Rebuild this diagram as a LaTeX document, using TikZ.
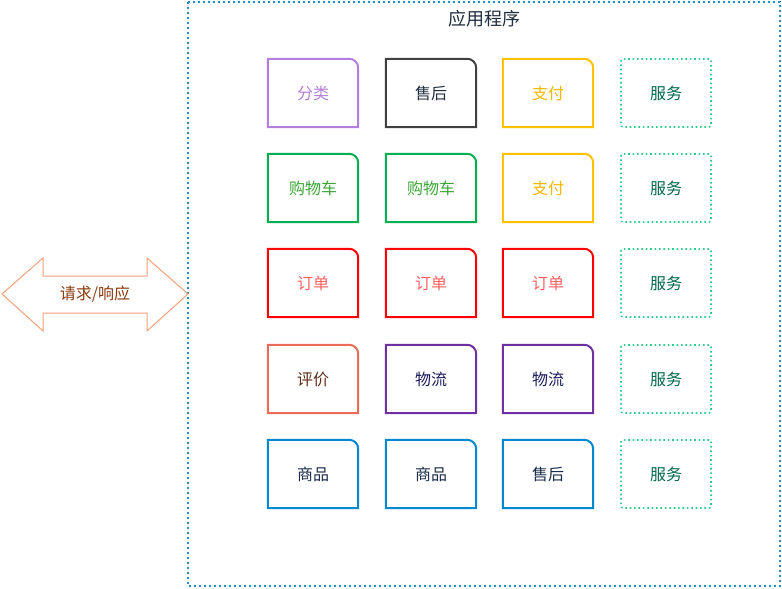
\documentclass[tikz,border=0pt]{standalone}
\usepackage{fontspec}
\setmainfont{Noto Sans CJK SC}
\usetikzlibrary{positioning}
\definecolor{framec}{HTML}{1F8FCB}
\definecolor{titlec}{HTML}{1F2D3D}
\definecolor{catc}{HTML}{B57EDC}
\definecolor{darkc}{HTML}{404040}
\definecolor{payc}{HTML}{FFC000}
\definecolor{paytxt}{HTML}{F5B800}
\definecolor{svcc}{HTML}{2ECC8F}
\definecolor{svctxt}{HTML}{00664B}
\definecolor{cartc}{HTML}{00B050}
\definecolor{carttxt}{HTML}{3AA635}
\definecolor{orderc}{HTML}{FF0000}
\definecolor{ordertxt}{HTML}{FF6060}
\definecolor{ratec}{HTML}{EA6B56}
\definecolor{ratetxt}{HTML}{5C2E1A}
\definecolor{shipc}{HTML}{7030A0}
\definecolor{shiptxt}{HTML}{1A1A5A}
\definecolor{goodsc}{HTML}{0088D1}
\definecolor{goodstxt}{HTML}{1A2B4A}
\definecolor{reqc}{HTML}{F4A07A}
\definecolor{reqtxt}{HTML}{8B3A0E}

\begin{document}
\begin{tikzpicture}[
  x=1pt,y=-1pt,
  font=\fontsize{16}{19}\selectfont,
  card/.style={minimum width=90pt, minimum height=68pt, inner sep=0pt, align=center,
    append after command={\pgfextra{\draw[draw=#1, line width=2pt]
      (\tikzlastnode.south west) -- (\tikzlastnode.north west) [rounded corners=9pt]
      -- (\tikzlastnode.north east) [sharp corners] -- (\tikzlastnode.south east) -- cycle;}}},
  svc/.style={draw=svcc, line width=1.6pt, dash pattern=on 1.6pt off 2.8pt, rounded corners=2pt,
    minimum width=90pt, minimum height=68pt, inner sep=0pt, text=svctxt},
]
\useasboundingbox (0,0) rectangle (782,589);
% application frame
\draw[framec, line width=1.6pt, dash pattern=on 1.6pt off 3.4pt] (188,2) rectangle (780,586);
\node[text=titlec, font=\fontsize{18}{21}\selectfont] (app) at (484,19) {应用程序};
% request / response arrow
\draw[reqc, line width=1pt, fill=white]
  (2,294) -- (43,258) -- (43,276) -- (147,276) -- (147,258) -- (188,294)
  -- (147,331) -- (147,313) -- (43,313) -- (43,331) -- cycle;
\node[text=reqtxt] (req) at (95,294) {请求/响应};
% row 1
\node[card=catc, text=catc] (cat) at (313,93) {分类};
\node[card=darkc, text=titlec] (after1) at (431,93) {售后};
\node[card=payc, text=paytxt] (pay1) at (548,93) {支付};
\node[svc] (svc1) at (666,93) {服务};
% row 2
\node[card=cartc, text=carttxt] (cart1) at (313,188) {购物车};
\node[card=cartc, text=carttxt] (cart2) at (431,188) {购物车};
\node[card=payc, text=paytxt] (pay2) at (548,188) {支付};
\node[svc] (svc2) at (666,188) {服务};
% row 3
\node[card=orderc, text=ordertxt] (order1) at (313,283) {订单};
\node[card=orderc, text=ordertxt] (order2) at (431,283) {订单};
\node[card=orderc, text=ordertxt] (order3) at (548,283) {订单};
\node[svc] (svc3) at (666,283) {服务};
% row 4
\node[card=ratec, text=ratetxt] (rate) at (313,379) {评价};
\node[card=shipc, text=shiptxt] (ship1) at (431,379) {物流};
\node[card=shipc, text=shiptxt] (ship2) at (548,379) {物流};
\node[svc] (svc4) at (666,379) {服务};
% row 5
\node[card=goodsc, text=goodstxt] (goods1) at (313,474) {商品};
\node[card=goodsc, text=goodstxt] (goods2) at (431,474) {商品};
\node[card=goodsc, text=goodstxt] (after2) at (548,474) {售后};
\node[svc] (svc5) at (666,474) {服务};
\end{tikzpicture}
\end{document}
